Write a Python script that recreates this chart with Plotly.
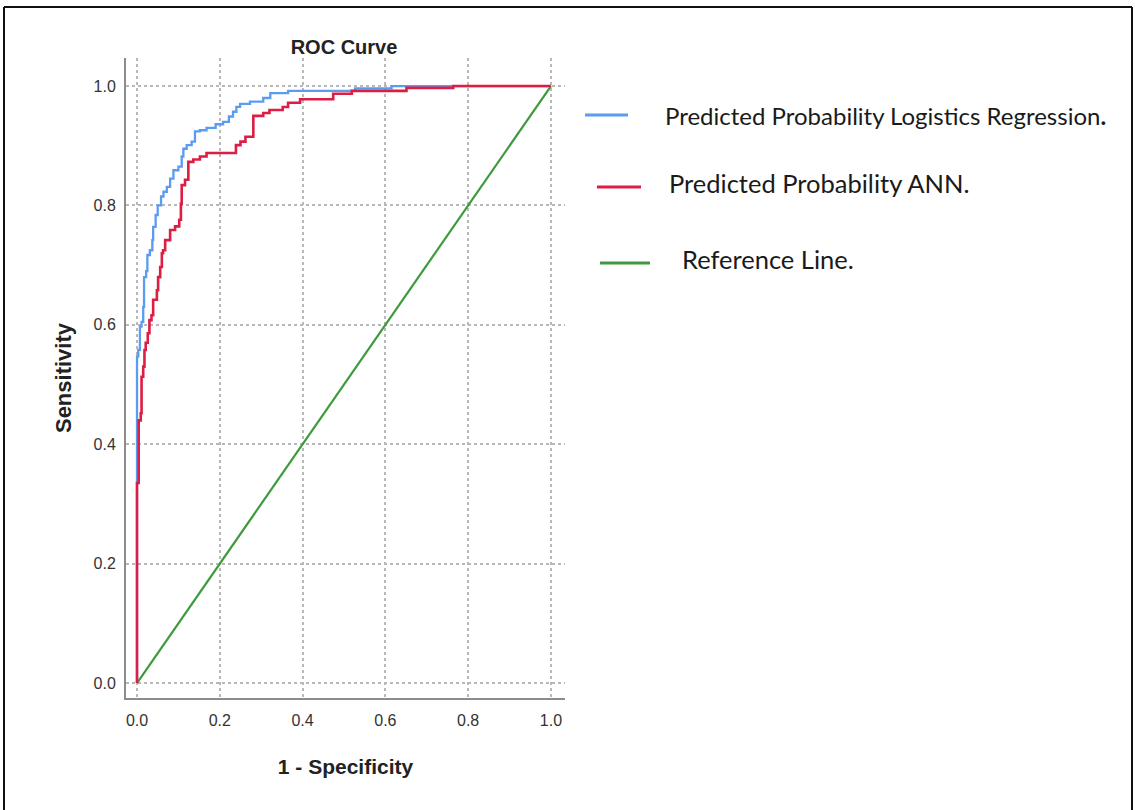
import plotly.graph_objects as go

# ROC points (1 - specificity, sensitivity); each point starts a horizontal run
lr_fpr = [0.0, 0.0, 0.003, 0.007, 0.011, 0.015, 0.017, 0.022, 0.025, 0.031, 0.037,
          0.039, 0.045, 0.050, 0.058, 0.064, 0.072, 0.080, 0.088, 0.100, 0.108,
          0.112, 0.120, 0.132, 0.140, 0.152, 0.168, 0.190, 0.208, 0.222, 0.232,
          0.240, 0.249, 0.273, 0.305, 0.322, 0.365, 0.527, 0.615, 1.0]
lr_tpr = [0.0, 0.547, 0.558, 0.597, 0.605, 0.630, 0.680, 0.690, 0.717, 0.725, 0.742,
          0.764, 0.784, 0.800, 0.815, 0.823, 0.831, 0.845, 0.859, 0.865, 0.882,
          0.895, 0.901, 0.907, 0.924, 0.926, 0.930, 0.936, 0.940, 0.949, 0.957,
          0.965, 0.970, 0.974, 0.980, 0.988, 0.992, 0.996, 1.0, 1.0]

ann_fpr = [0.0, 0.0, 0.004, 0.009, 0.011, 0.015, 0.018, 0.021, 0.026, 0.030, 0.035,
           0.039, 0.048, 0.051, 0.056, 0.060, 0.063, 0.068, 0.080, 0.092, 0.102,
           0.106, 0.108, 0.116, 0.124, 0.136, 0.152, 0.168, 0.239, 0.250, 0.262,
           0.281, 0.305, 0.320, 0.352, 0.365, 0.394, 0.474, 0.519, 0.651, 0.764, 1.0]
ann_tpr = [0.0, 0.335, 0.440, 0.452, 0.513, 0.530, 0.558, 0.570, 0.586, 0.608, 0.616,
           0.642, 0.658, 0.680, 0.697, 0.720, 0.725, 0.742, 0.759, 0.765, 0.776,
           0.803, 0.834, 0.843, 0.873, 0.877, 0.882, 0.888, 0.901, 0.907, 0.915,
           0.950, 0.955, 0.960, 0.965, 0.972, 0.978, 0.987, 0.992, 0.997, 1.0, 1.0]

ref_x = [0.0, 1.0]
ref_y = [0.0, 1.0]

tick_vals = [0.0, 0.2, 0.4, 0.6, 0.8, 1.0]
tick_text = ["0.0", "0.2", "0.4", "0.6", "0.8", "1.0"]

legend_labels = ["Predicted Probability Logistics Regression<b>.</b>",
                 "Predicted Probability ANN.",
                 "Reference Line."]

BLUE = "#5b9cf0"
RED = "#dc1e44"
GREEN = "#3f9a3f"

W, H = 1135, 810
L, R, T, B = 126, 565, 58, 698
FONT = "Liberation Sans, Arial"


def px(x):
    return (x - L) / (R - L)


def py(y):
    return (B - y) / (B - T)


fig = go.Figure()
fig.add_trace(go.Scatter(x=ref_x, y=ref_y, mode="lines",
                         line=dict(color=GREEN, width=2.2), showlegend=False))
fig.add_trace(go.Scatter(x=lr_fpr, y=lr_tpr, mode="lines", line_shape="hv",
                         line=dict(color=BLUE, width=2.3), showlegend=False))
fig.add_trace(go.Scatter(x=ann_fpr, y=ann_tpr, mode="lines", line_shape="hv",
                         line=dict(color=RED, width=2.6), showlegend=False))

axis_common = dict(
    tickvals=tick_vals, ticktext=tick_text, showgrid=True,
    gridcolor="#b8b8b8", griddash="dot", gridwidth=1.6,
    showline=True, linecolor="#8c8c8c", linewidth=2, zeroline=False,
    ticks="", tickfont=dict(family=FONT, size=16, color="#333333"),
    automargin=False,
)

fig.update_layout(
    width=W, height=H,
    margin=dict(l=L, r=W - R, t=T, b=H - B),
    paper_bgcolor="white", plot_bgcolor="white",
    title=dict(text="<b>ROC Curve</b>", x=px(344), xref="paper", xanchor="center",
               y=1 - 47 / H, yanchor="middle",
               font=dict(family=FONT, size=20, color="#222222")),
    xaxis=dict(range=[-0.0266, 1.034], ticklabelstandoff=7, **axis_common,
               title=dict(text="<b>1 - Specificity</b>", standoff=31,
                          font=dict(family=FONT, size=21, color="#222222"))),
    yaxis=dict(range=[-0.025, 1.047], ticklabelstandoff=5, **axis_common,
               title=dict(text="<b>Sensitivity</b>", standoff=16,
                          font=dict(family=FONT, size=22, color="#222222"))),
)

# legend drawn to the right of the plot
legend_items = [
    (BLUE, 585, 628, 115, 663, 115, 24),
    (RED, 597, 641, 187, 667, 183, 25.5),
    (GREEN, 600, 650, 263, 680, 259, 25.5),
]
for (color, x0, x1, ly, tx, ty, fs), label in zip(legend_items, legend_labels):
    fig.add_shape(type="line", xref="paper", yref="paper",
                  x0=px(x0), x1=px(x1), y0=py(ly), y1=py(ly),
                  line=dict(color=color, width=3))
    fig.add_annotation(text=label, xref="paper", yref="paper",
                       x=px(tx), y=py(ty), xanchor="left", yanchor="middle",
                       showarrow=False,
                       font=dict(family="Lato, Open Sans", size=fs, color="#1a1a1a"))

# outer frame (left, top, right edges)
for x0, y0, x1, y1 in [(4, 7, 4, 815), (4, 7, 1132, 7), (1132, 7, 1132, 815)]:
    fig.add_shape(type="line", xref="paper", yref="paper",
                  x0=px(x0), y0=py(y0), x1=px(x1), y1=py(y1),
                  line=dict(color="#111111", width=2))

fig.write_html("out.html")
